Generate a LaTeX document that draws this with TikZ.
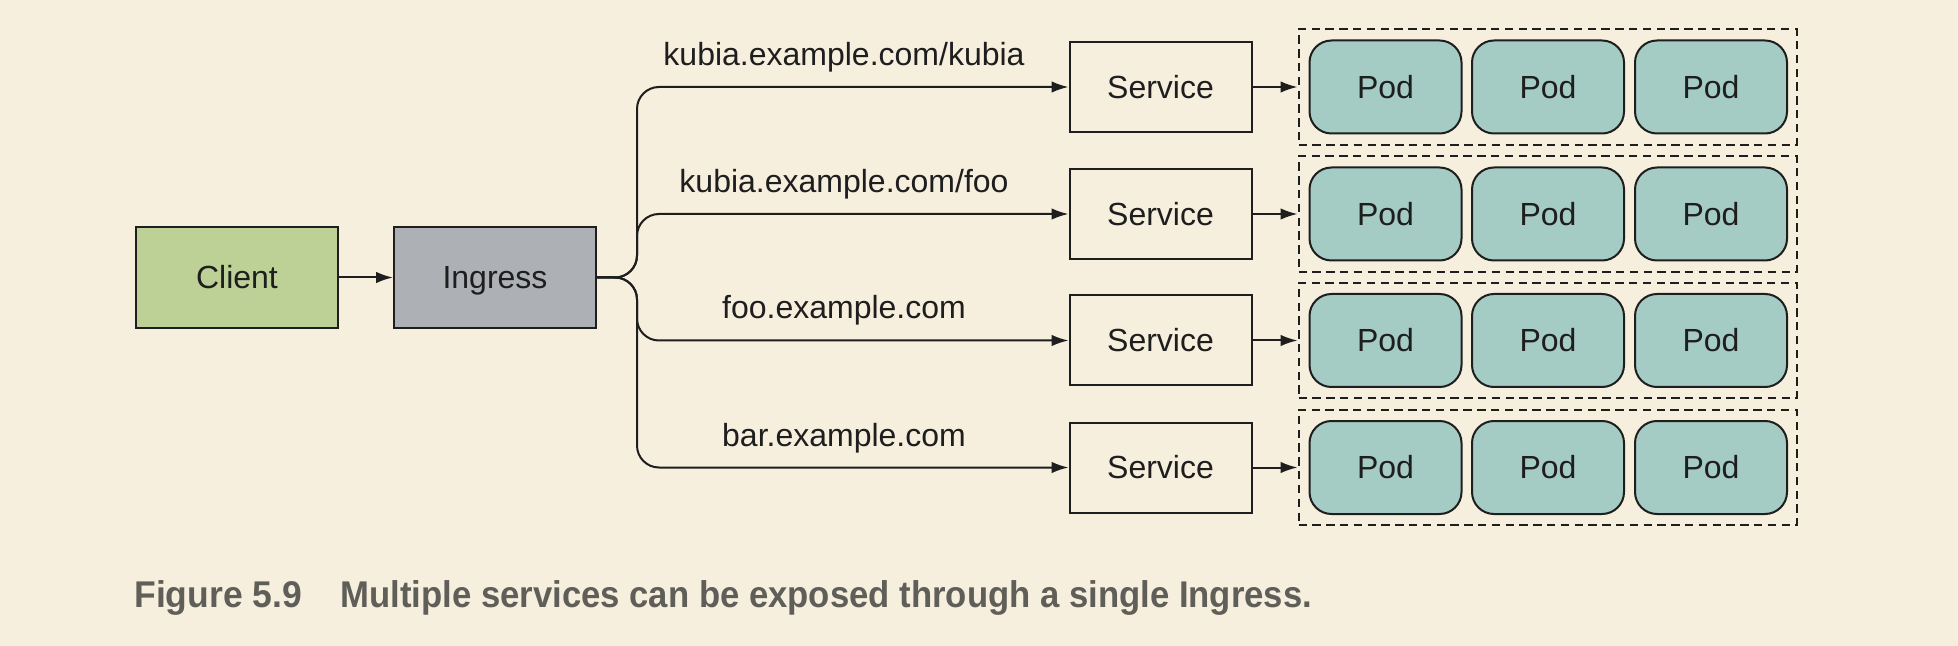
\documentclass[tikz,border=0pt]{standalone}
\usepackage{graphicx}
\usepackage{fontspec}
\setmainfont{Liberation Sans}
\usetikzlibrary{arrows.meta}
\definecolor{bgc}{RGB}{246,239,222}
\definecolor{clientc}{RGB}{189,209,150}
\definecolor{ingressc}{RGB}{173,176,181}
\definecolor{podc}{RGB}{164,204,196}
\definecolor{linec}{RGB}{30,30,30}
\definecolor{capc}{RGB}{96,94,88}
\tikzset{
  base/.style={font=\fontsize{16pt}{19pt}\selectfont, text=linec, text height=11.4pt, text depth=0pt},
  mainbox/.style={base, draw=linec, line width=1pt, minimum width=101pt, minimum height=50.5pt, inner sep=0pt},
  svcbox/.style={base, draw=linec, line width=1pt, fill=bgc, minimum width=91pt, minimum height=45pt, inner sep=0pt},
  podbox/.style={base, draw=linec, line width=1pt, fill=podc, rounded corners=11pt, minimum width=76pt, minimum height=46.5pt, inner sep=0pt},
  grpbox/.style={draw=linec, line width=1pt, dash pattern=on 4.2pt off 2.7pt, minimum width=249pt, minimum height=57.8pt, inner sep=0pt},
  conn/.style={draw=linec, line width=1pt, -{Latex[length=8.5pt,width=5.8pt]}},
  routelbl/.style={font=\fontsize{16pt}{19pt}\selectfont, text=linec, anchor=base, inner sep=0pt},
  captxt/.style={font=\fontsize{18.6pt}{22pt}\selectfont\bfseries, text=capc, inner sep=0pt, anchor=base west}
}
\begin{document}
\begin{tikzpicture}[x=0.5pt,y=-0.5pt]
\fill[bgc] (0,0) rectangle (1958,646);
\useasboundingbox (0,0) rectangle (1958,646);

\node[mainbox, fill=clientc] (client) at (237,277.5) {Client};
\node[mainbox, fill=ingressc] (ingress) at (495,277.5) {Ingress};
\draw[conn] (client) -- (ingress);

\coordinate (bx) at (637,277.5);

\foreach \i/\yy/\lbl in {1/87/kubia.example.com\slash kubia, 2/214/kubia.example.com\slash foo, 3/340.5/foo.example.com, 4/467.5/bar.example.com}{
  \node[svcbox] (svc\i) at (1160.5,\yy) {Service};
  \node[grpbox] (grp\i) at (1547.5,\yy) {};
  \node[podbox] (pod\i a) at (1385.5,\yy) {Pod};
  \node[podbox] (pod\i b) at (1548,\yy) {Pod};
  \node[podbox] (pod\i c) at (1711,\yy) {Pod};
  \draw[conn] (svc\i) -- (grp\i);
  \draw[conn, rounded corners=11pt] (ingress.east) -- (bx) |- (svc\i.west);
  \node[routelbl] (lbl\i) at (844,\yy-21.5) {\lbl};
}

\node[captxt] (figno) at (134,607.7) {\resizebox{83.85pt}{\height}{Figure 5.9}};
\node[captxt] (captext) at (340,607.7) {\resizebox{485.85pt}{\height}{Multiple services can be exposed through a single Ingress.}};
\end{tikzpicture}
\end{document}
